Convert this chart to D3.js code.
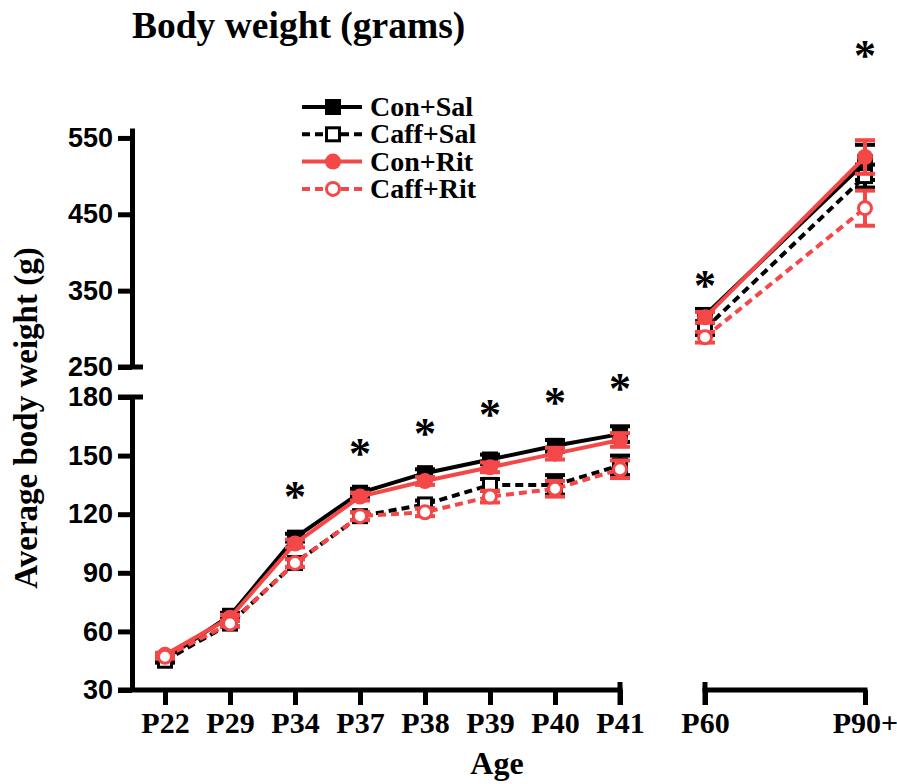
<!DOCTYPE html>
<html>
<head>
<meta charset="utf-8">
<script src="https://cdn.jsdelivr.net/npm/d3@7/dist/d3.min.js"></script>
<style>
  html, body { margin: 0; padding: 0; background: #fff; }
  svg { display: block; }
</style>
</head>
<body>
<svg id="chart" width="897" height="784"></svg>
<script>
// ---------- data ----------
const leftCats = ["P22", "P29", "P34", "P37", "P38", "P39", "P40", "P41"];
const rightCats = ["P60", "P90+"];
const categories = leftCats.concat(rightCats);

const seriesNames = ["Con+Sal", "Caff+Sal", "Con+Rit", "Caff+Rit"];

const conSal   = [46, 68, 108, 131, 141, 148, 155, 161, 318, 518];
const caffSal  = [45, 64,  95, 119, 125, 135, 135, 145, 300, 500];
const conRit   = [48, 67, 105, 129, 137, 144, 151, 158, 315, 525];
const caffRit  = [47, 64,  95, 119, 121, 129, 133, 143, 289, 458];

const conSalSem  = [1, 1.5, 2, 2, 2, 2.5, 3, 4, 8, 23];
const caffSalSem = [1, 1.5, 2, 2, 2, 3, 5, 5, 8, 15];
const conRitSem  = [1, 1.5, 2, 2, 2, 2.5, 3, 3.5, 7, 22];
const caffRitSem = [1, 1.5, 2, 2, 2, 3, 4, 4.5, 7, 23];

const lowTicks = [30, 60, 90, 120, 150, 180];
const highTicks = [250, 350, 450, 550];

// significance asterisks: category and height (in g) of the star
const starCats = ["P34", "P37", "P38", "P39", "P40", "P41", "P60", "P90+"];
const starValues = [132, 154, 164, 174, 180, 187, 364, 665];

// ---------- styles ----------
const RED = "#f44848";
const BLACK = "#000";
const serif = "'Liberation Serif', 'Times New Roman', Times, serif";
const sans = "'Liberation Sans', Arial, Helvetica, sans-serif";

const seriesStyle = [
  { values: conSal,  sem: conSalSem,  color: BLACK, dash: null,  shape: "square", filled: true },
  { values: caffSal, sem: caffSalSem, color: BLACK, dash: "8,5", shape: "square", filled: false },
  { values: conRit,  sem: conRitSem,  color: RED,   dash: null,  shape: "circle", filled: true },
  { values: caffRit, sem: caffRitSem, color: RED,   dash: "8,5", shape: "circle", filled: false }
];

// ---------- scales ----------
const svg = d3.select("#chart");
const axisX = 132;   // y-axis position
const yLow = d3.scaleLinear().domain([30, 180]).range([690, 397]);
const yHigh = d3.scaleLinear().domain([250, 563]).range([367, 128]);
const xLeft = d3.scalePoint().domain(leftCats).range([165, 620]);
const xRight = d3.scalePoint().domain(rightCats).range([705, 865]);

const xPos = c => leftCats.includes(c) ? xLeft(c) : xRight(c);
const yPos = (c, v) => leftCats.includes(c) ? yLow(v) : yHigh(v);

const AXW = 5;

// ---------- title ----------
svg.append("text")
  .attr("x", 132).attr("y", 38)
  .attr("font-family", serif).attr("font-weight", "bold").attr("font-size", 37.5)
  .text("Body weight (grams)");

// ---------- y axes ----------
function styleAxis(g, fontFamily, fontSize) {
  g.select(".domain").attr("stroke", BLACK).attr("stroke-width", AXW);
  g.selectAll(".tick line").attr("stroke", BLACK).attr("stroke-width", AXW);
  g.selectAll(".tick text")
    .attr("font-family", fontFamily).attr("font-weight", "bold")
    .attr("font-size", fontSize).attr("fill", BLACK);
  g.attr("font-family", null).attr("font-size", null);
}

const gLow = svg.append("g").attr("transform", `translate(${axisX},0)`)
  .call(d3.axisLeft(yLow).tickValues(lowTicks).tickSize(14).tickSizeOuter(0).tickPadding(5));
styleAxis(gLow, sans, 27);

const gHigh = svg.append("g").attr("transform", `translate(${axisX},0)`)
  .call(d3.axisLeft(yHigh).tickValues(highTicks).tickSize(14).tickSizeOuter(0).tickPadding(5));
styleAxis(gHigh, sans, 27);

// break caps
[yLow(180), yHigh(250)].forEach(y => {
  svg.append("line")
    .attr("x1", axisX - 14).attr("x2", axisX + 11)
    .attr("y1", y).attr("y2", y)
    .attr("stroke", BLACK).attr("stroke-width", AXW);
});

// ---------- x axes ----------
const xAxisY = yLow(30);
const gxl = svg.append("g").attr("transform", `translate(0,${xAxisY})`)
  .call(d3.axisBottom(xLeft).tickSize(15).tickSizeOuter(0).tickPadding(7));
styleAxis(gxl, serif, 30);
gxl.select(".domain").remove();

const gxr = svg.append("g").attr("transform", `translate(0,${xAxisY})`)
  .call(d3.axisBottom(xRight).tickSize(15).tickSizeOuter(0).tickPadding(7));
styleAxis(gxr, serif, 30);
gxr.select(".domain").remove();

// axis lines
svg.append("line")
  .attr("x1", axisX - 14).attr("x2", xLeft("P41") + 2.5)
  .attr("y1", xAxisY).attr("y2", xAxisY)
  .attr("stroke", BLACK).attr("stroke-width", AXW);
svg.append("line")
  .attr("x1", xRight("P60") - 2.5).attr("x2", xRight("P90+") + 2.5)
  .attr("y1", xAxisY).attr("y2", xAxisY)
  .attr("stroke", BLACK).attr("stroke-width", AXW);
// end caps
[xLeft("P41"), xRight("P60")].forEach(x => {
  svg.append("line")
    .attr("x1", x).attr("x2", x)
    .attr("y1", xAxisY - 8).attr("y2", xAxisY + 15)
    .attr("stroke", BLACK).attr("stroke-width", AXW);
});

// axis titles
svg.append("text")
  .attr("x", 497).attr("y", 774).attr("text-anchor", "middle")
  .attr("font-family", serif).attr("font-weight", "bold").attr("font-size", 32)
  .text("Age");

svg.append("text")
  .attr("transform", `translate(37,${418}) rotate(-90)`)
  .attr("text-anchor", "middle")
  .attr("font-family", serif).attr("font-weight", "bold").attr("font-size", 33)
  .text("Average body weight (g)");

// ---------- series ----------
function drawMarker(g, s, x, y, size) {
  if (s.shape === "square") {
    const side = s.filled ? size : size - 3;
    g.append("rect")
      .attr("x", x - side / 2).attr("y", y - side / 2)
      .attr("width", side).attr("height", side)
      .attr("fill", s.filled ? s.color : "#fff")
      .attr("stroke", s.color).attr("stroke-width", s.filled ? 0 : 3);
  } else {
    const r = s.filled ? size / 2 : size / 2 - 1.5;
    g.append("circle")
      .attr("cx", x).attr("cy", y).attr("r", r)
      .attr("fill", s.filled ? s.color : "#fff")
      .attr("stroke", s.color).attr("stroke-width", s.filled ? 0 : 3);
  }
}

const line = d3.line().x(d => xPos(d.c)).y(d => yPos(d.c, d.v));

seriesStyle.forEach(s => {
  const g = svg.append("g");
  const pts = categories.map((c, i) => ({ c, v: s.values[i], e: s.sem[i] }));
  const segs = [pts.filter(p => leftCats.includes(p.c)), pts.filter(p => rightCats.includes(p.c))];
  segs.forEach(seg => {
    g.append("path").datum(seg)
      .attr("d", line)
      .attr("fill", "none").attr("stroke", s.color).attr("stroke-width", 4)
      .attr("stroke-dasharray", s.dash);
  });
  // error bars
  pts.forEach(p => {
    const x = xPos(p.c);
    const y1 = yPos(p.c, p.v + p.e), y2 = yPos(p.c, p.v - p.e);
    g.append("line").attr("x1", x).attr("x2", x).attr("y1", y1).attr("y2", y2)
      .attr("stroke", s.color).attr("stroke-width", 4);
    [y1, y2].forEach(y => {
      g.append("line").attr("x1", x - 10).attr("x2", x + 10).attr("y1", y).attr("y2", y)
        .attr("stroke", s.color).attr("stroke-width", 4);
    });
  });
  pts.forEach(p => drawMarker(g, s, xPos(p.c), yPos(p.c, p.v), 16));
});

// ---------- asterisks ----------
starCats.forEach((c, i) => {
  svg.append("text")
    .attr("x", xPos(c)).attr("y", yPos(c, starValues[i]) + 20)
    .attr("text-anchor", "middle")
    .attr("font-family", serif).attr("font-weight", "bold").attr("font-size", 44)
    .text("*");
});

// ---------- legend ----------
const legend = svg.append("g");
seriesStyle.forEach((s, i) => {
  const y = 107 + i * 27.3;
  legend.append("line")
    .attr("x1", 302).attr("x2", 362).attr("y1", y).attr("y2", y)
    .attr("stroke", s.color).attr("stroke-width", 4)
    .attr("stroke-dasharray", s.dash);
  drawMarker(legend, s, 333, y, 16);
  legend.append("text")
    .attr("x", 370).attr("y", y + 9)
    .attr("font-family", serif).attr("font-weight", "bold").attr("font-size", 28)
    .text(seriesNames[i]);
});
</script>
</body>
</html>
